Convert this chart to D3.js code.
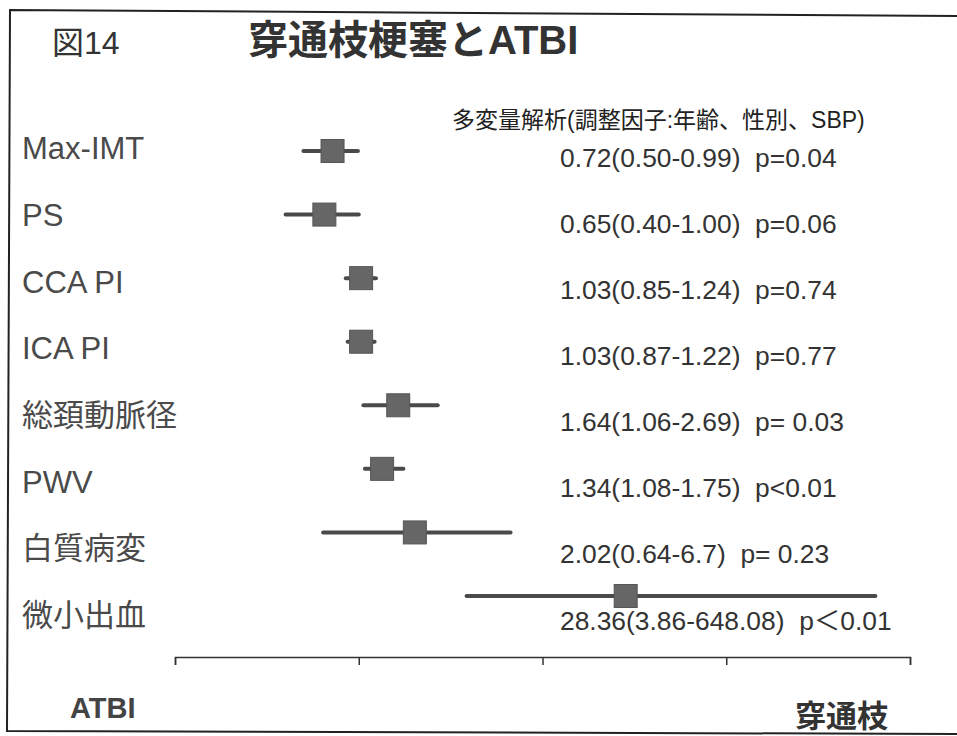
<!DOCTYPE html>
<html>
<head>
<meta charset="utf-8">
<script src="https://cdn.jsdelivr.net/npm/d3@7"></script>
<style>
  html, body { margin: 0; padding: 0; background: #fff; }
  svg { display: block; }
  text { font-family: "Liberation Sans", Arial, "Noto Sans CJK JP", sans-serif; }
</style>
</head>
<body>
<svg id="chart" width="957" height="736"></svg>
<script>
// Odds ratios with 95% CI for perforating-branch infarction vs. ATBI
const factors = ["Max-IMT", "PS", "CCA PI", "ICA PI", "総頚動脈径", "PWV", "白質病変", "微小出血"];
const oddsRatio = ["0.72", "0.65", "1.03", "1.03", "1.64", "1.34", "2.02", "28.36"];
const ciLow = ["0.50", "0.40", "0.85", "0.87", "1.06", "1.08", "0.64", "3.86"];
const ciHigh = ["0.99", "1.00", "1.24", "1.22", "2.69", "1.75", "6.7", "648.08"];
const pValues = ["p=0.04", "p=0.06", "p=0.74", "p=0.77", "p= 0.03", "p<0.01", "p= 0.23", "p＜0.01"];
const axisTicks = [0.1, 1, 10, 100, 1000];

const rows = factors.map((name, i) => ({
  name,
  or: +oddsRatio[i],
  lo: +ciLow[i],
  hi: +ciHigh[i],
  label: `${oddsRatio[i]}(${ciLow[i]}-${ciHigh[i]})  ${pValues[i]}`
}));

const svg = d3.select("#chart");

// Log-scaled odds-ratio axis
const x = d3.scaleLog().domain([0.1, 1000]).range([175, 910]);
const yMark = d3.scalePoint().domain(factors).range([151, 596]);
const yName = d3.scalePoint().domain(factors).range([148, 615]);
const yText = d3.scalePoint().domain(factors).range([157, 620]);

// Headings
svg.append("text")
  .attr("x", 52).attr("y", 54)
  .attr("font-size", 32)
  .attr("fill", "#333")
  .text("図14");

svg.append("text")
  .attr("x", 248).attr("y", 54)
  .attr("font-size", 40)
  .attr("font-weight", "bold")
  .attr("fill", "#333")
  .text("穿通枝梗塞とATBI");

svg.append("text")
  .attr("x", 452).attr("y", 128)
  .attr("font-size", 23)
  .attr("fill", "#222")
  .text("多変量解析(調整因子:年齢、性別、SBP)");

// Factor names
svg.append("g")
  .selectAll("text")
  .data(rows)
  .join("text")
  .attr("x", 22)
  .attr("y", d => yName(d.name))
  .attr("dy", "0.36em")
  .attr("font-size", 31)
  .attr("fill", "#4a4a4a")
  .text(d => d.name);

// Confidence intervals and point estimates
const marks = svg.append("g");
marks.selectAll("line")
  .data(rows)
  .join("line")
  .attr("x1", d => x(d.lo))
  .attr("x2", d => x(d.hi))
  .attr("y1", d => yMark(d.name))
  .attr("y2", d => yMark(d.name))
  .attr("stroke", "#4a4a4a")
  .attr("stroke-width", 4)
  .attr("stroke-linecap", "round");

const box = 23;
marks.selectAll("rect")
  .data(rows)
  .join("rect")
  .attr("x", d => x(d.or) - box / 2)
  .attr("y", d => yMark(d.name) - box / 2)
  .attr("width", box)
  .attr("height", box)
  .attr("fill", "#666")
  .attr("stroke", "#555")
  .attr("stroke-width", 1);

// Estimate text
svg.append("g")
  .selectAll("text")
  .data(rows)
  .join("text")
  .attr("x", 560)
  .attr("y", d => yText(d.name))
  .attr("dy", "0.36em")
  .attr("font-size", 26.4)
  .attr("fill", "#333")
  .attr("xml:space", "preserve")
  .style("white-space", "pre")
  .text(d => d.label);

// Axis without labels
const axis = svg.append("g")
  .attr("transform", "translate(0,657)")
  .call(d3.axisBottom(x).tickValues(axisTicks).tickFormat("").tickSize(8).tickSizeOuter(8));
axis.selectAll("path, line").attr("stroke", "#333").attr("stroke-width", 1.5);

// Axis direction labels
svg.append("text")
  .attr("x", 70).attr("y", 718)
  .attr("font-size", 29)
  .attr("font-weight", "bold")
  .attr("fill", "#444")
  .text("ATBI");

svg.append("text")
  .attr("x", 795).attr("y", 727)
  .attr("font-size", 31)
  .attr("font-weight", "bold")
  .attr("fill", "#333")
  .text("穿通枝");

// Slide frame
svg.append("path")
  .attr("d", d3.line()([[962, 16], [10, 10], [7, 731], [962, 734]]))
  .attr("fill", "none")
  .attr("stroke", "#222")
  .attr("stroke-width", 2);
</script>
</body>
</html>
